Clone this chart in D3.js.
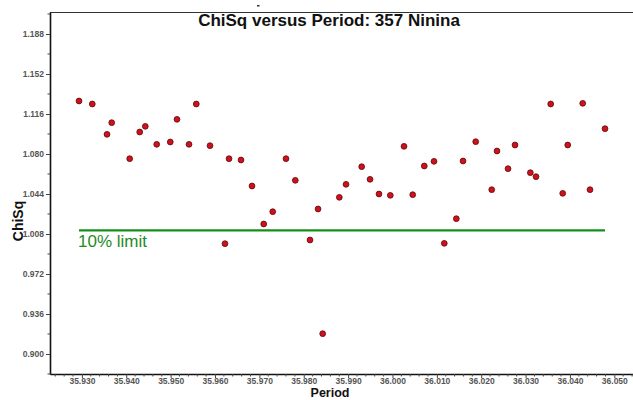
<!DOCTYPE html>
<html>
<head>
<meta charset="utf-8">
<script src="https://cdn.jsdelivr.net/npm/d3@7"></script>
<style>
  html, body { margin: 0; padding: 0; background: #fff; }
  svg { display: block; }
  text { font-family: "Liberation Sans", Arial, sans-serif; }
</style>
</head>
<body>
<svg id="chart" width="633" height="400"></svg>
<script>
// Trial periods (days) and the ChiSq of the fit at each period
const periods = [
  35.92935, 35.93234, 35.93566, 35.93672, 35.94077, 35.94303, 35.94429, 35.94686, 35.94992, 35.95143,
  35.95414, 35.95578, 35.95887, 35.96225, 35.96316, 35.96586, 35.96834, 35.97098, 35.97301, 35.97600,
  35.97810, 35.98141, 35.98322, 35.98427, 35.98802, 35.98953, 35.99306, 35.99494, 35.99696, 35.99951,
  36.00260, 36.00456, 36.00717, 36.00936, 36.01168, 36.01439, 36.01590, 36.01876, 36.02237, 36.02356,
  36.02604, 36.02762, 36.03107, 36.03235, 36.03566, 36.03837, 36.03950, 36.04288, 36.04452, 36.04790
];
const chiSq = [
  1.1277, 1.1250, 1.0977, 1.1082, 1.0758, 1.0998, 1.1049, 1.0887, 1.0908, 1.1112,
  1.0887, 1.1250, 1.0875, 0.9993, 1.0758, 1.0746, 1.0512, 1.0170, 1.0281, 1.0758,
  1.0563, 1.0026, 1.0305, 0.9183, 1.0410, 1.0527, 1.0686, 1.0572, 1.0440, 1.0428,
  1.0869, 1.0434, 1.0692, 1.0734, 0.9996, 1.0218, 1.0737, 1.0911, 1.0479, 1.0827,
  1.0668, 1.0881, 1.0632, 1.0596, 1.1250, 1.0446, 1.0881, 1.1256, 1.0479, 1.1028
];
const limitValue = 1.0113;
const limitLabel = "10% limit";

// Axis ticks
const xTicks = [35.930, 35.940, 35.950, 35.960, 35.970, 35.980, 35.990, 36.000, 36.010, 36.020, 36.030, 36.040, 36.050];
const yTicks = [0.900, 0.936, 0.972, 1.008, 1.044, 1.080, 1.116, 1.152, 1.188];

const titleText = "ChiSq versus Period: 357 Ninina";
const xTitle = "Period";
const yTitle = "ChiSq";

const svg = d3.select("#chart");
const plot = { left: 50, top: 12, right: 633, bottom: 374 };

const x = d3.scaleLinear().domain([35.92281, 36.05421]).range([plot.left, plot.right]);
const y = d3.scaleLinear().domain([0.882, 1.2078]).range([plot.bottom, plot.top]);

// Minor ticks
const xMinor = d3.range(35.924, 36.0541, 0.002).filter(v => !xTicks.some(t => Math.abs(t - v) < 1e-6));
const yMinor = yTicks.map(t => t + 0.018).filter(v => v < 1.2078).concat([0.882]);

// Frame: top line, left axis, bottom axis
svg.append("line").attr("x1", plot.left).attr("x2", plot.right).attr("y1", plot.top + 0.5).attr("y2", plot.top + 0.5)
  .attr("stroke", "#333").attr("stroke-width", 1);

const gx = svg.append("g").attr("transform", `translate(0,${plot.bottom})`);
gx.call(d3.axisBottom(x).tickValues(xTicks).tickFormat(d3.format(".3f")).tickSize(4).tickSizeOuter(0));
gx.selectAll(".minor").data(xMinor).join("line").attr("class", "minor")
  .attr("x1", d => x(d)).attr("x2", d => x(d)).attr("y1", 0).attr("y2", 2.5).attr("stroke", "#444");

const gy = svg.append("g").attr("transform", `translate(${plot.left},0)`);
gy.call(d3.axisLeft(y).tickValues(yTicks).tickFormat(d3.format(".3f")).tickSize(4).tickSizeOuter(0));
gy.selectAll(".minor").data(yMinor).join("line").attr("class", "minor")
  .attr("x1", 0).attr("x2", -2.5).attr("y1", d => y(d)).attr("y2", d => y(d)).attr("stroke", "#444");

[gx, gy].forEach(g => {
  g.select(".domain").attr("stroke", "#111").attr("stroke-width", 1.6);
  g.selectAll(".tick line").attr("stroke", "#444");
  g.selectAll(".tick text").attr("font-size", 8.5).attr("font-weight", "bold").attr("fill", "#555")
    .attr("font-family", "'Liberation Sans', Arial, sans-serif");
});
gx.selectAll(".tick text").attr("dy", null).attr("y", 10);
gy.selectAll(".tick text").attr("x", -6);

// Limit line and label
const limitG = svg.append("g");
limitG.append("line")
  .attr("x1", x(d3.min(periods))).attr("x2", x(d3.max(periods)))
  .attr("y1", y(limitValue)).attr("y2", y(limitValue))
  .attr("stroke", "#14901a").attr("stroke-width", 2.2);
limitG.append("text")
  .attr("x", x(d3.min(periods)) - 1).attr("y", y(limitValue) + 17)
  .attr("font-size", 17).attr("fill", "#1e8c1e")
  .text(limitLabel);

// Data points
svg.append("g").selectAll("circle")
  .data(periods.map((p, i) => [p, chiSq[i]]))
  .join("circle")
  .attr("cx", d => x(d[0])).attr("cy", d => y(d[1]))
  .attr("r", 2.9)
  .attr("fill", "#d0101c").attr("stroke", "#5a0a0a").attr("stroke-width", 0.8);

// Titles
svg.append("text").attr("x", 329).attr("y", 26).attr("text-anchor", "middle")
  .attr("font-size", 17).attr("font-weight", "bold").attr("fill", "#111")
  .text(titleText);
svg.append("text").attr("x", 330).attr("y", 397.3).attr("text-anchor", "middle")
  .attr("font-size", 12.5).attr("font-weight", "bold").attr("fill", "#111")
  .text(xTitle);
svg.append("text").attr("transform", "translate(23,221) rotate(-90)").attr("text-anchor", "middle")
  .attr("font-size", 14).attr("font-weight", "bold").attr("fill", "#111")
  .text(yTitle);

// small mark above the frame
svg.append("rect").attr("x", 257).attr("y", 5).attr("width", 2.5).attr("height", 1.5).attr("fill", "#333");
</script>
</body>
</html>
